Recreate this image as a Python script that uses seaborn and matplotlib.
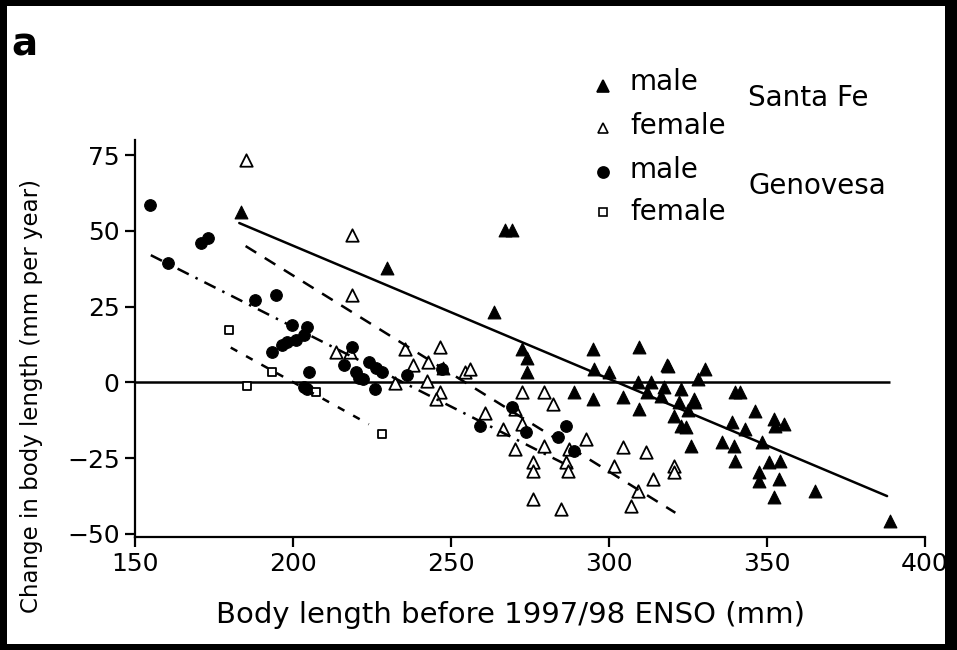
import numpy as np
import pandas as pd
import matplotlib
matplotlib.use("Agg")
import matplotlib.pyplot as plt
from matplotlib.patches import Rectangle
from matplotlib.lines import Line2D
import seaborn as sns

# ---------------- data ----------------
sf_male_x = [183.4, 229.9, 267.2, 269.4, 263.5, 272.6, 274.2, 274.2, 247.5, 294.9, 295.2, 300.0,
             288.9, 294.9, 309.6, 304.5, 309.6, 309.2, 313.4, 318.2, 317.5, 322.9, 316.6, 322.0,
             320.7, 322.9, 327.1, 330.3, 328.3, 326.1, 339.8, 341.4, 346.2, 338.9, 343.0, 335.7,
             339.5, 339.8, 348.4, 352.2, 355.4, 352.5, 347.5, 347.5, 350.6, 354.1, 353.8, 352.2,
             365.3, 388.9, 324.5, 326.8, 318.8, 312.0, 325.0]
sf_male_y = [56.3, 37.8, 50.3, 50.3, 23.2, 10.9, 8.2, 3.3, 4.9, 10.9, 4.3, 3.6,
             -3.3, -5.6, 11.8, -4.9, -8.9, 0.0, 0.3, 5.9, -1.6, -2.3, -4.6, -6.6,
             -11.2, -14.5, -6.6, 4.3, 1.0, -21.0, -3.3, -3.0, -9.5, -13.2, -15.5, -19.7,
             -21.0, -26.0, -19.7, -12.2, -13.8, -14.5, -29.6, -32.6, -26.3, -26.0, -31.9, -37.8,
             -35.9, -45.7, -14.8, -5.6, 5.3, -3.0, -9.0]

sf_female_x = [185.0, 218.8, 218.8, 213.5, 218.0, 235.4, 246.5, 237.9, 242.7, 232.4, 242.4, 246.5,
               245.2, 254.5, 256.0, 272.6, 279.3, 282.2, 260.8, 270.4, 266.6, 272.6, 270.4, 279.3,
               287.3, 292.7, 275.8, 275.8, 286.3, 287.0, 275.8, 284.7, 304.5, 311.8, 301.6, 314.0,
               309.2, 307.0, 320.7, 320.7]
sf_female_y = [73.4, 48.7, 29.0, 10.0, 10.2, 10.9, 11.8, 5.9, 6.6, -0.3, 0.5, -3.3,
               -5.3, 3.3, 4.3, -3.0, -3.0, -7.2, -10.2, -8.9, -15.5, -13.8, -22.0, -21.0,
               -22.0, -18.8, -26.3, -29.3, -26.3, -29.3, -38.5, -41.8, -21.4, -23.0, -27.6, -31.9,
               -35.9, -40.8, -27.6, -29.6]

gen_male_x = [154.8, 160.5, 171.0, 173.2, 187.9, 194.6, 199.7, 204.5, 203.5, 201.0, 198.1, 196.5,
              193.3, 205.1, 203.5, 204.5, 218.8, 216.2, 220.0, 221.0, 224.2, 226.4, 228.3, 225.8,
              236.0, 247.1, 259.2, 273.6, 286.3, 283.8, 269.4, 288.9, 222.0]
gen_male_y = [58.6, 39.5, 46.0, 47.7, 27.3, 29.0, 19.1, 18.4, 15.8, 14.1, 13.2, 12.5,
              10.2, 3.3, -1.6, -2.3, 11.8, 5.9, 3.6, 1.6, 6.9, 4.9, 3.6, -2.3,
              2.6, 4.3, -14.5, -16.4, -14.5, -18.1, -8.2, -22.7, 1.0]

gen_female_x = [179.6, 185.4, 193.3, 207.3, 228.3]
gen_female_y = [17.4, -1.3, 3.6, -3.0, -17.1]

# fitted regression lines (start / end)
fit_groups = ["sf_male", "sf_female", "gen_male", "gen_female"]
fit_x0 = [183.0, 185.0, 155.0, 180.3]
fit_y0 = [52.6, 45.0, 42.0, 11.5]
fit_x1 = [388.0, 321.0, 290.0, 224.0]
fit_y1 = [-37.5, -43.0, -29.0, -13.8]

x_ticks = [150, 200, 250, 300, 350, 400]
y_ticks = [-50, -25, 0, 25, 50, 75]
legend_labels = ["male", "female", "male", "female"]
island_labels = ["Santa Fe", "Genovesa"]

# ---------------- figure ----------------
sns.set_style("ticks")
plt.rcParams["font.family"] = ["DejaVu Sans"]
plt.rcParams["text.color"] = "black"
plt.rcParams["xtick.color"] = "black"
plt.rcParams["ytick.color"] = "black"
plt.rcParams["axes.edgecolor"] = "black"

W, H = 957, 650
fig = plt.figure(figsize=(W / 100, H / 100), dpi=100, facecolor="black")
fig.patches.append(Rectangle((7 / W, 6 / H), (W - 19) / W, (H - 12) / H,
                             transform=fig.transFigure, facecolor="white",
                             edgecolor="none", zorder=-10))

ax = fig.add_axes([135 / W, 113 / H, (925 - 135) / W, (537 - 140) / H])
ax.patch.set_visible(False)
ax.set_zorder(5)

df = pd.concat([
    pd.DataFrame({"x": sf_male_x, "y": sf_male_y, "g": "sf_male"}),
    pd.DataFrame({"x": sf_female_x, "y": sf_female_y, "g": "sf_female"}),
    pd.DataFrame({"x": gen_male_x, "y": gen_male_y, "g": "gen_male"}),
    pd.DataFrame({"x": gen_female_x, "y": gen_female_y, "g": "gen_female"}),
], ignore_index=True)

styles = {
    "sf_male": dict(marker="^", s=85, color="black", edgecolor="black", linewidth=0.8),
    "sf_female": dict(marker="^", s=80, color="white", edgecolor="black", linewidth=1.3),
    "gen_male": dict(marker="o", s=70, color="black", edgecolor="black", linewidth=0.8),
    "gen_female": dict(marker="s", s=40, color="white", edgecolor="black", linewidth=1.3),
}
line_styles = {
    "sf_male": "-",
    "sf_female": (0, (5, 4)),
    "gen_male": (0, (5, 3, 1, 3)),
    "gen_female": (0, (3, 4)),
}

ax.hlines(0, 150, 389, color="black", lw=1.8, zorder=2)

for g, x0, y0, x1, y1 in zip(fit_groups, fit_x0, fit_y0, fit_x1, fit_y1):
    ax.plot([x0, x1], [y0, y1], color="black", lw=1.8, linestyle=line_styles[g], zorder=4)

for g, st in styles.items():
    sub = df[df["g"] == g]
    sns.scatterplot(data=sub, x="x", y="y", ax=ax, legend=False, zorder=3, **st)

ax.set_xlim(150, 400)
ax.set_ylim(-51, 80)
ax.set_xticks(x_ticks)
ax.set_yticks(y_ticks)
ax.set_xlabel("")
ax.set_ylabel("")
sns.despine(ax=ax)
for sp in ["left", "bottom"]:
    ax.spines[sp].set_linewidth(1.6)
    ax.spines[sp].set_color("black")
ax.tick_params(axis="both", direction="out", length=7, width=1.6, labelsize=18, pad=4,
               colors="black")

# axis labels
fig.text(510 / W, 1 - 615 / H, "Body length before 1997/98 ENSO (mm)", fontsize=21,
         ha="center", va="center", color="black")
fig.text(32 / W, 1 - 396 / H, "Change in body length (mm per year)", fontsize=16.5,
         ha="center", va="center", rotation=90, color="black")

# panel letter
fig.text(11 / W, 1 - 55 / H, "a", fontsize=28, fontweight="heavy",
         family=["Liberation Sans Narrow", "DejaVu Sans"], ha="left", va="baseline",
         color="black")

# legend
leg_marker_y = [86, 128, 172, 212]
leg_text_y = [82, 126, 170, 212]
leg_keys = ["sf_male", "sf_female", "gen_male", "gen_female"]
leg_ms = [8, 7, 8, 6]
for key, my, ty, lab, ms in zip(leg_keys, leg_marker_y, leg_text_y, legend_labels, leg_ms):
    st = styles[key]
    fig.add_artist(Line2D([603 / W], [1 - my / H], marker=st["marker"], markersize=ms,
                          markerfacecolor=st["color"], markeredgecolor="black",
                          markeredgewidth=1.2, linestyle="none", transform=fig.transFigure,
                          zorder=10))
    fig.text(630 / W, 1 - ty / H, lab, fontsize=20, ha="left", va="center", color="black",
             zorder=10)
fig.text(748 / W, 1 - 98 / H, island_labels[0], fontsize=20, ha="left", va="center",
         color="black", zorder=10)
fig.text(748 / W, 1 - 186 / H, island_labels[1], fontsize=20, ha="left", va="center",
         color="black", zorder=10)

fig.savefig("out.png", dpi=100, facecolor=fig.get_facecolor())
